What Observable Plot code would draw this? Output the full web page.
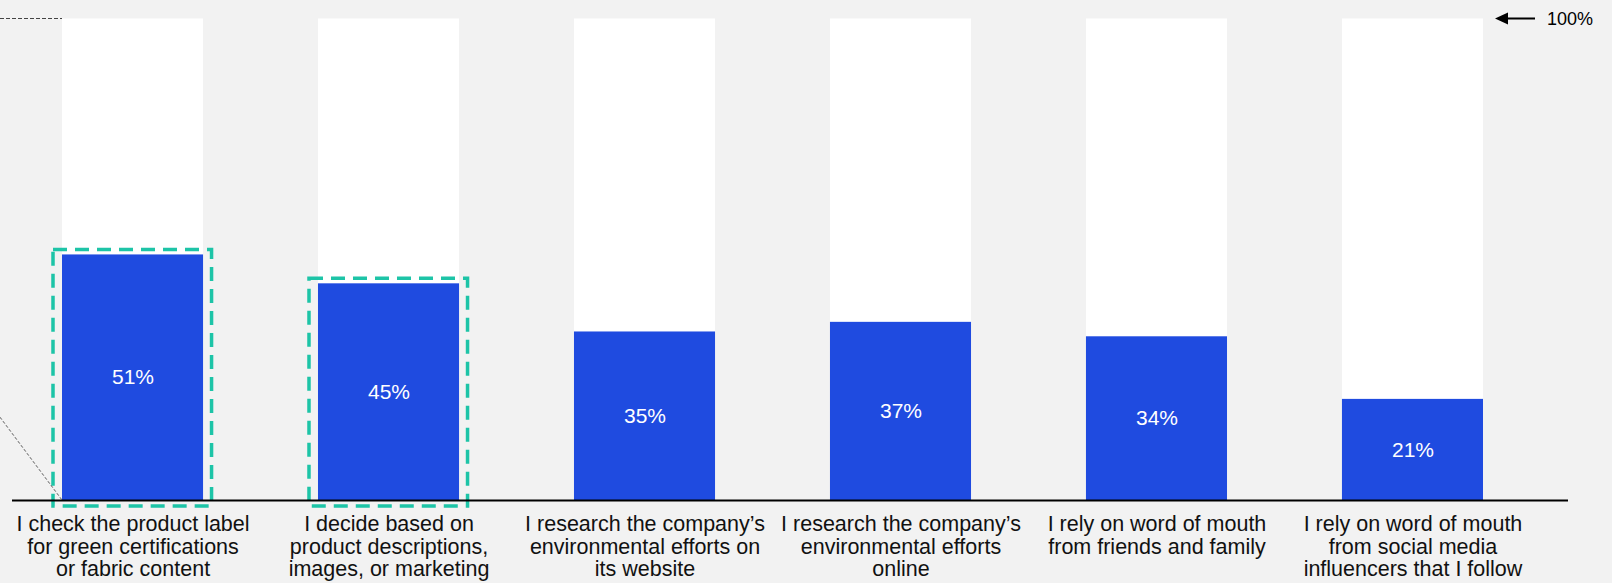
<!DOCTYPE html>
<html><head><meta charset="utf-8">
<script src="https://cdn.jsdelivr.net/npm/d3@7"></script>
<script src="https://cdn.jsdelivr.net/npm/@observablehq/plot@0.6"></script>
<style>html,body{margin:0;padding:0;background:#f2f2f2;overflow:hidden;}</style>
</head><body><div id="chart"></div>
<script>
const categories = [
  "I check the product label for green certifications or fabric content",
  "I decide based on product descriptions, images, or marketing",
  "I research the company’s environmental efforts on its website",
  "I research the company’s environmental efforts online",
  "I rely on word of mouth from friends and family",
  "I rely on word of mouth from social media influencers that I follow"
];
const tickLabels = [
  "I check the product label\nfor green certifications\nor fabric content",
  "I decide based on\nproduct descriptions,\nimages, or marketing",
  "I research the company’s\nenvironmental efforts on\nits website",
  "I research the company’s\nenvironmental efforts\nonline",
  "I rely on word of mouth\nfrom friends and family",
  "I rely on word of mouth\nfrom social media\ninfluencers that I follow"
];
const values = [51, 45, 35, 37, 34, 21];
const highlighted = [true, true, false, false, false, false];
const maxValue = 100;
const maxLabel = "100%";
const calloutLevel = 17.2;

const data = categories.map((c, i) => ({category: c, tick: tickLabels[i], value: values[i], max: maxValue, hl: highlighted[i]}));
const FONT = "Liberation Sans, Arial, Helvetica, sans-serif";

function callout(index, {x, y}) {
  const g = d3.create("svg:g");
  const x0 = x(categories[0]);
  g.append("line").attr("x1", 0).attr("x2", x0).attr("y1", y(maxValue)).attr("y2", y(maxValue))
    .attr("stroke", "#444").attr("stroke-width", 1).attr("stroke-dasharray", "4,2");
  g.append("line").attr("x1", 0).attr("y1", y(calloutLevel)).attr("x2", x0).attr("y2", y(0))
    .attr("stroke", "#333").attr("stroke-width", 0.8).attr("stroke-dasharray", "3,2");
  return g.node();
}

function maxArrow(index, {x, y}) {
  const g = d3.create("svg:g");
  const last = categories[categories.length - 1];
  const xe = x(last) + x.bandwidth();
  const yy = y(maxValue);
  const tip = xe + 12, tail = xe + 52;
  g.append("line").attr("x1", tip + 10).attr("x2", tail).attr("y1", yy).attr("y2", yy)
    .attr("stroke", "#000").attr("stroke-width", 2);
  g.append("path").attr("d", `M${tip},${yy} L${tip + 13},${yy - 6} L${tip + 13},${yy + 6} Z`).attr("fill", "#000");
  g.append("text").attr("x", tail + 12).attr("y", yy).attr("dy", "0.35em").attr("text-anchor", "start")
    .attr("font-family", FONT).attr("font-size", 18).attr("fill", "#000").text(maxLabel);
  return g.node();
}

const chart = Plot.plot({
  width: 1612,
  height: 583,
  marginLeft: 12,
  marginRight: 44,
  marginTop: 18,
  marginBottom: 83,
  style: {background: "#f2f2f2", fontFamily: FONT, overflow: "visible"},
  x: {domain: categories, range: [62, 1483], paddingInner: 0.449, paddingOuter: 0, round: false, axis: null},
  y: {domain: [0, maxValue], range: [500, 18.5], axis: null},
  marks: [
    Plot.barY(data, {x: "category", y: "max", fill: "#ffffff"}),
    Plot.barY(data, {x: "category", y: "value", fill: "#1f4be0"}),
    Plot.text(data, {x: "category", y: d => d.value / 2, text: d => d.value + "%", fill: "#ffffff", fontSize: 21}),
    Plot.rect(data.filter(d => d.hl), {x: "category", y1: 0, y2: "value", fill: "none", stroke: "#1dc4a7",
      strokeWidth: 3.5, strokeDasharray: "14,8", insetLeft: -9, insetRight: -8.5, insetTop: -5, insetBottom: -6}),
    Plot.ruleY([0], {stroke: "#000", strokeWidth: 2}),
    Plot.text(data, {x: "category", y: 0, text: "tick", lineAnchor: "top", dy: 14.5, fontSize: 21.5, lineHeight: 1.05, fill: "#111"}),
    callout,
    maxArrow
  ]
});
document.getElementById("chart").appendChild(chart);
</script>
</body></html>
